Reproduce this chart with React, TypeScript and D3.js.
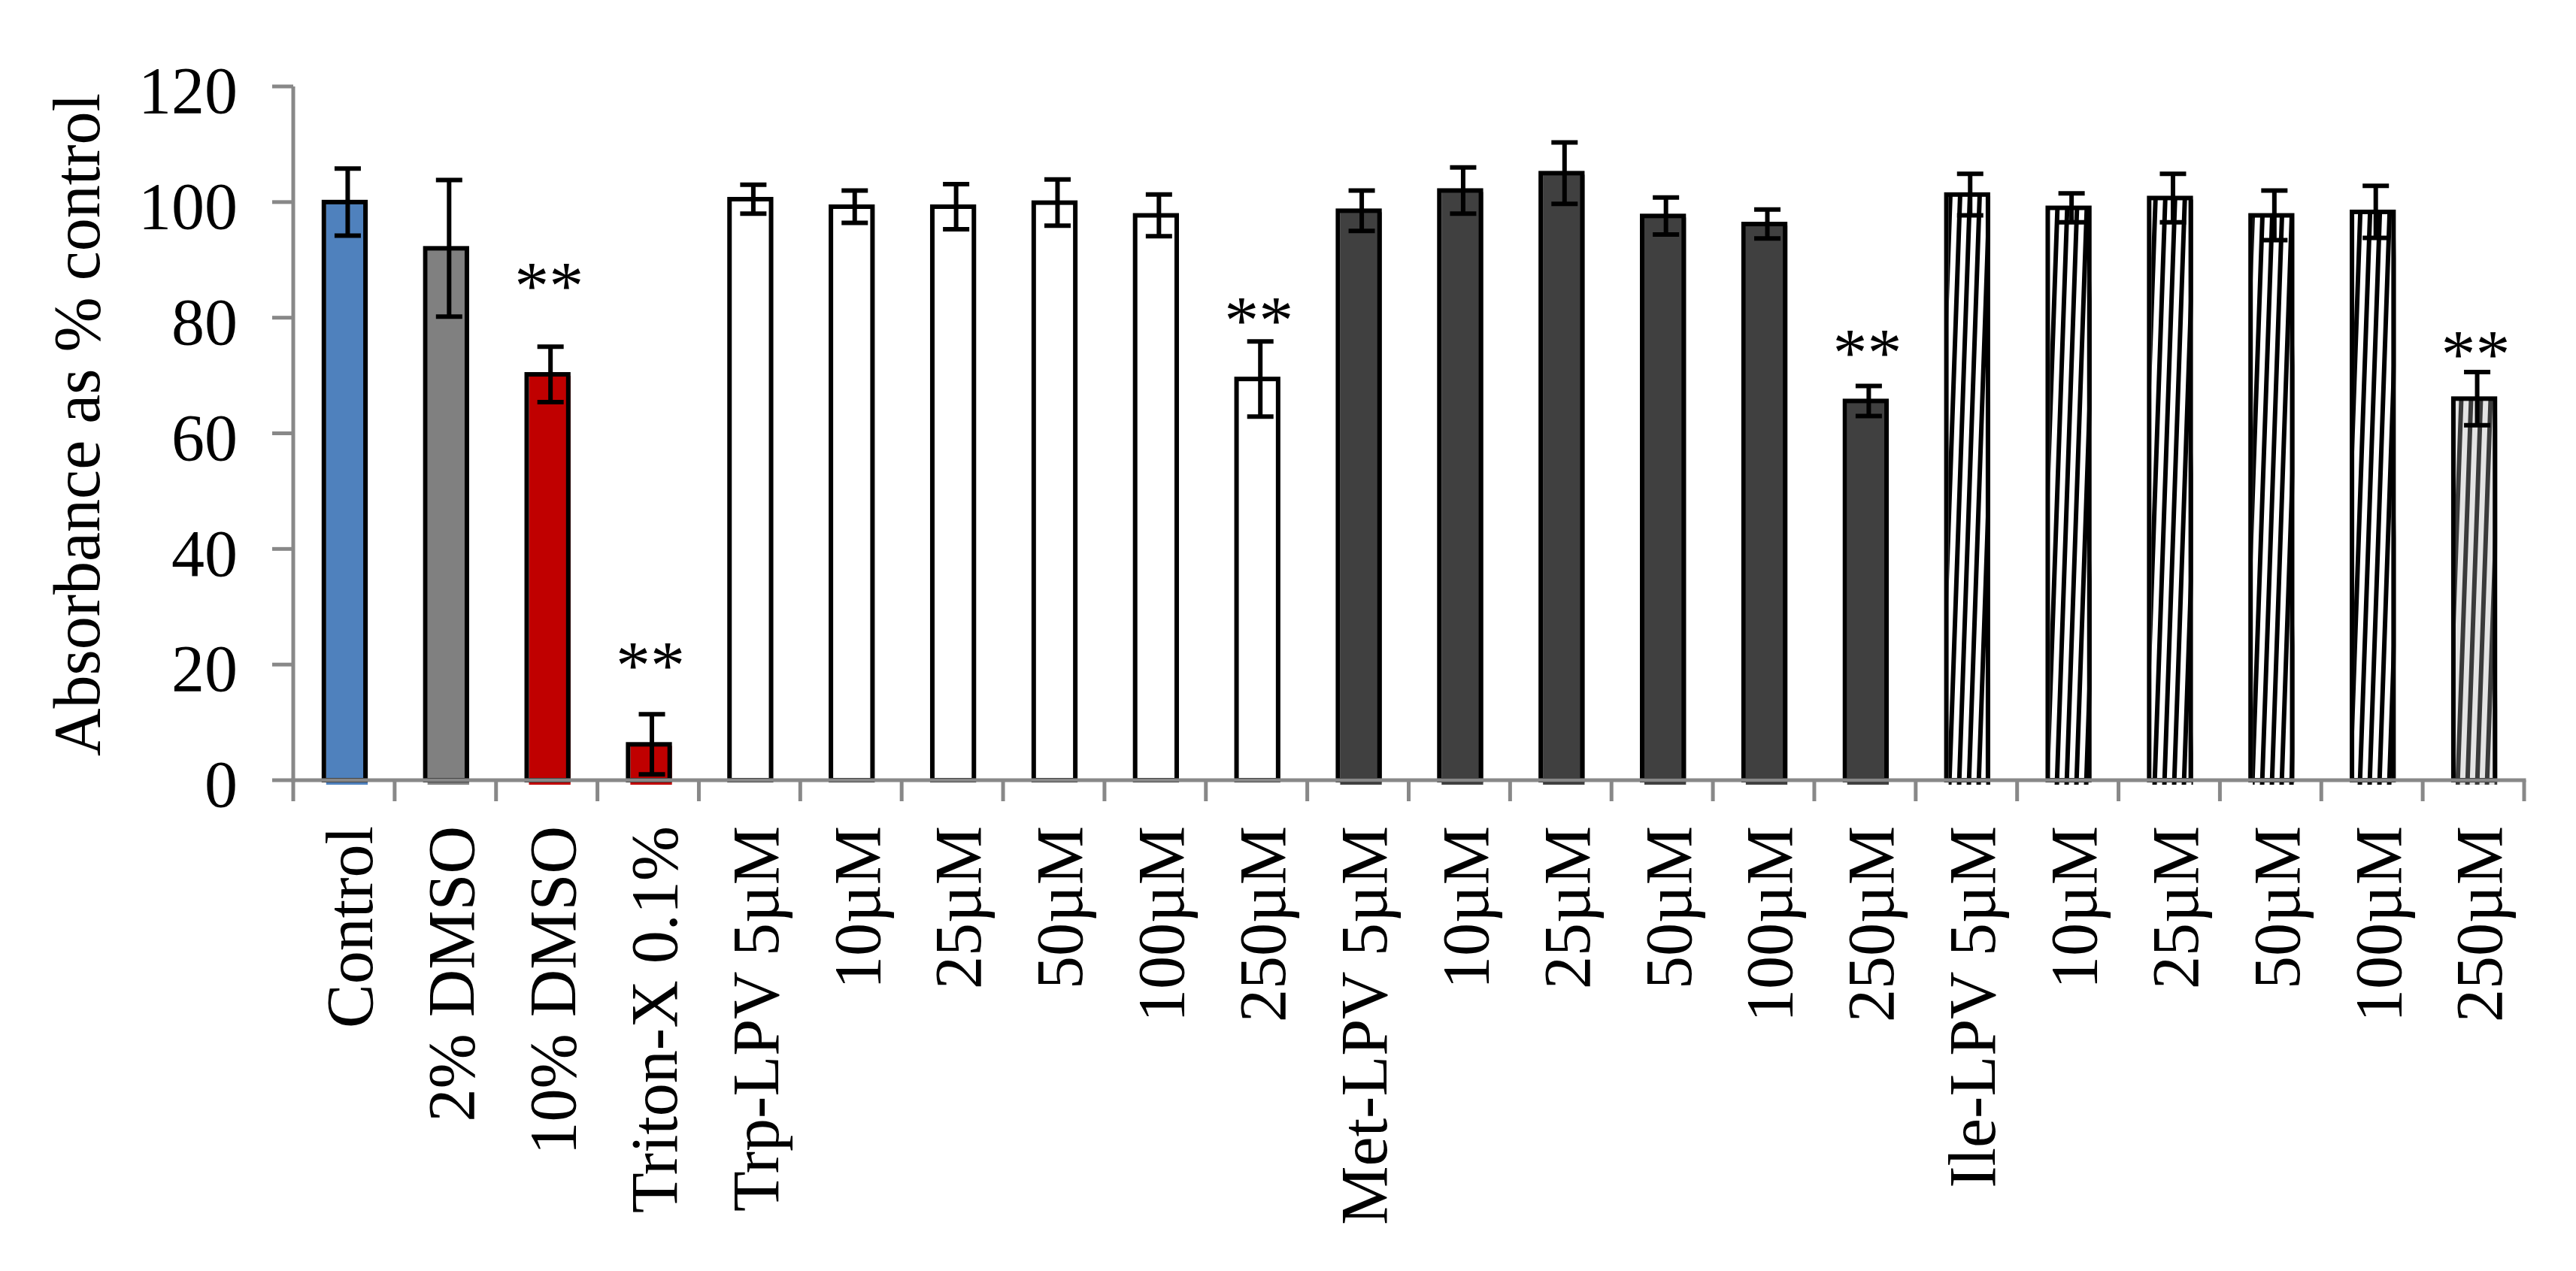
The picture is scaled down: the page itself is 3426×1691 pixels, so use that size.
import React from "react";
import * as d3 from "d3";

const categories = [
  "Control", "2% DMSO", "10% DMSO", "Triton-X 0.1%",
  "Trp-LPV 5µM", "10µM", "25µM", "50µM", "100µM", "250µM",
  "Met-LPV 5µM", "10µM", "25µM", "50µM", "100µM", "250µM",
  "Ile-LPV 5µM", "10µM", "25µM", "50µM", "100µM", "250µM",
];
const values = [
  100, 92, 70.2, 6.2,
  100.5, 99.2, 99.2, 99.9, 97.7, 69.4,
  98.5, 102.0, 105.0, 97.6, 96.2, 65.6,
  101.3, 99.0, 100.7, 97.7, 98.3, 66.0,
];
const errors = [
  5.8, 11.8, 4.8, 5.2,
  2.5, 2.8, 3.9, 4.0, 3.6, 6.5,
  3.5, 4.0, 5.3, 3.2, 2.5, 2.6,
  3.6, 2.5, 4.2, 4.3, 4.5, 4.6,
];
// position (in axis units) of the "**" significance marks; null = none
const sigMarks: (number | null)[] = [
  null, null, 87.5, 21.8,
  null, null, null, null, null, 81.5,
  null, null, null, null, null, 75.9,
  null, null, null, null, null, 75.7,
];
const fills = [
  "#4F81BD", "#808080", "#C00000", "#C00000",
  "#FFFFFF", "#FFFFFF", "#FFFFFF", "#FFFFFF", "#FFFFFF", "#FFFFFF",
  "#404040", "#404040", "#404040", "#404040", "#404040", "#404040",
  "url(#stripes)", "url(#stripes)", "url(#stripes)", "url(#stripes)", "url(#stripes)", "url(#stripesGray)",
];
const yTicks = [0, 20, 40, 60, 80, 100, 120];
const yLabel = "Absorbance as % control";

const W = 3426;
const H = 1691;
const X0 = 390;
const X1 = 3357;
const Y0 = 1038;
const Y1 = 115;
const FONT = "'Liberation Serif', 'Times New Roman', serif";
const AXIS = "#888888";

export default function App() {
  const x = d3
    .scaleBand<number>()
    .domain(d3.range(categories.length))
    .range([X0, X1])
    .paddingInner(0.59)
    .paddingOuter(0.295);
  const step = x.step();
  const bw = x.bandwidth();
  const y = d3.scaleLinear().domain([0, 120]).range([Y0, Y1]);

  return (
    <svg
      width={W}
      height={H}
      style={{ position: "absolute", left: 0, top: 0, background: "#fff" }}
      xmlns="http://www.w3.org/2000/svg"
    >
      <defs>
        <pattern id="stripes" patternUnits="userSpaceOnUse" width={13} height={13} patternTransform="skewX(-2)">
          <rect width={13} height={13} fill="#fff" />
          <rect x={0} width={6} height={13} fill="#000" />
        </pattern>
        <pattern id="stripesGray" patternUnits="userSpaceOnUse" width={13} height={13} patternTransform="skewX(-2)">
          <rect width={13} height={13} fill="#e4e4e4" />
          <rect x={0} width={6} height={13} fill="#3a3a3a" />
        </pattern>
      </defs>
      <rect x={0} y={0} width={W} height={H} fill="#fff" />

      {/* bars */}
      {values.map((v, i) => {
        const bx = x(i)! + 1;
        const top = y(v);
        return (
          <g key={"bar" + i}>
            <rect x={bx + 3} y={top + 2} width={bw} height={Y0 + 6 - top - 2} fill={fills[i]} />
            <rect x={bx} y={top} width={bw} height={Y0 - top} fill="none" stroke="#000" strokeWidth={6} />
          </g>
        );
      })}

      {/* axes */}
      <g stroke={AXIS} strokeWidth={5} fill="none">
        <line x1={X0} x2={X0} y1={Y1} y2={Y0 + 2.5} />
        <line x1={X0 - 2.5} x2={X1 + 2.5} y1={Y0} y2={Y0} />
        {yTicks.map((t) => (
          <line key={"yt" + t} x1={X0 - 28} x2={X0} y1={y(t)} y2={y(t)} />
        ))}
        {d3.range(categories.length + 1).map((k) => (
          <line key={"xt" + k} x1={X0 + k * step} x2={X0 + k * step} y1={Y0} y2={Y0 + 28} />
        ))}
      </g>

      {/* error bars */}
      {values.map((v, i) => {
        const cx = x(i)! + bw / 2 + 5;
        const hi = y(v + errors[i]);
        const lo = y(Math.max(0, v - errors[i]));
        return (
          <g key={"err" + i} stroke="#000" strokeWidth={6}>
            <line x1={cx} x2={cx} y1={hi} y2={lo} />
            <line x1={cx - 17.5} x2={cx + 17.5} y1={hi} y2={hi} />
            <line x1={cx - 17.5} x2={cx + 17.5} y1={lo} y2={lo} />
          </g>
        );
      })}

      {/* significance marks */}
      {sigMarks.map((s, i) =>
        s === null ? null : (
          <text
            key={"sig" + i}
            x={x(i)! + bw / 2 + 3}
            y={y(s) + 46}
            fontFamily={FONT}
            fontSize={92}
            textAnchor="middle"
          >
            **
          </text>
        )
      )}

      {/* y tick labels */}
      {yTicks.map((t) => (
        <text
          key={"yl" + t}
          x={316}
          y={y(t)}
          dy="0.4em"
          fontFamily={FONT}
          fontSize={88}
          textAnchor="end"
        >
          {t}
        </text>
      ))}

      {/* x labels */}
      {categories.map((c, i) => {
        const cx = X0 + (i + 0.5) * step;
        return (
          <text
            key={"xl" + i}
            transform={`translate(${cx},1099) rotate(-90)`}
            dy="0.43em"
            fontFamily={FONT}
            fontSize={88}
            textAnchor="end"
          >
            {c}
          </text>
        );
      })}

      {/* y axis title */}
      <text
        transform={`translate(132,565) rotate(-90)`}
        fontFamily={FONT}
        fontSize={88}
        textAnchor="middle"
      >
        {yLabel}
      </text>
    </svg>
  );
}
